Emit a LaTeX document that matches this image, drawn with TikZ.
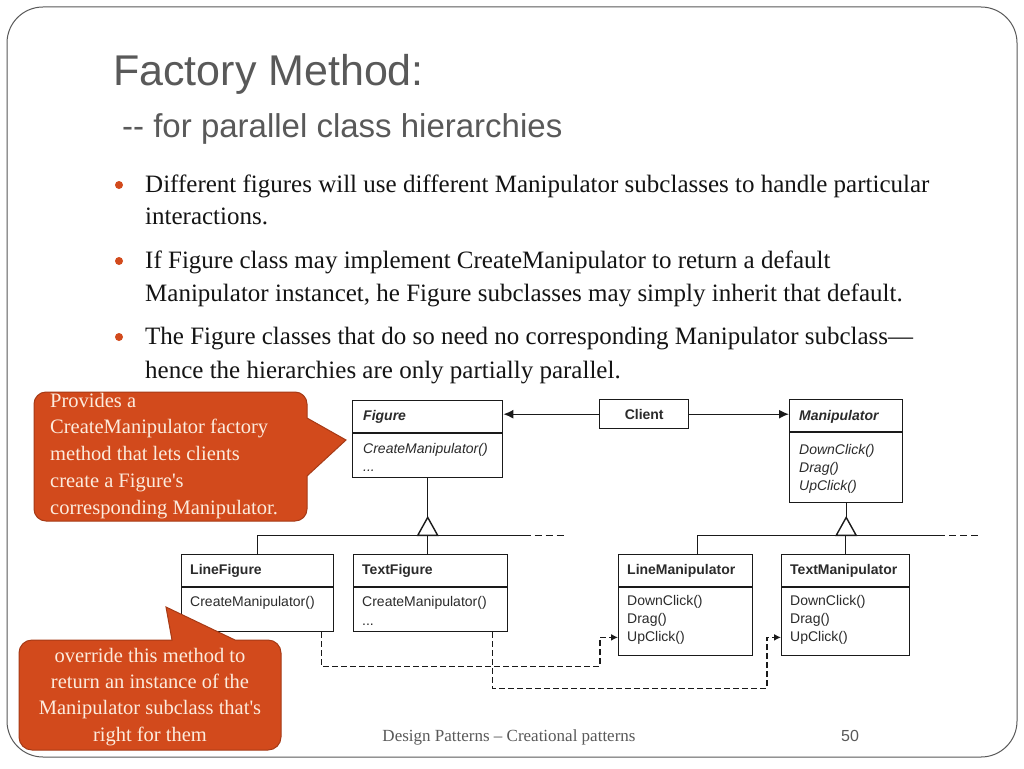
\documentclass[tikz,border=0pt]{standalone}
\usepackage{fontspec}
\setmainfont{Liberation Serif}[Ligatures=TeXOff]
\newfontfamily\umlfont{Liberation Sans}
\newfontfamily\ttlfont{Liberation Sans}
\usetikzlibrary{arrows.meta}
\definecolor{accent}{HTML}{D24A1C}
\definecolor{accentdark}{HTML}{A63A16}
\definecolor{callouttext}{HTML}{FCEBDD}
\definecolor{titlegray}{HTML}{595959}
\definecolor{umlline}{HTML}{1A1A1A}
\definecolor{umltext}{HTML}{2B2B2B}
\tikzset{
  body/.style={anchor=base west, inner sep=0, font=\fontsize{25}{30}\selectfont, text=black!92},
  bulletdot/.style={circle, fill=accent, inner sep=0, minimum size=8},
  cls/.style={draw=umlline, line width=1.4, anchor=north west, inner sep=0, fill=white},
  umlt/.style={anchor=base west, inner sep=0, font=\umlfont\fontsize{14}{16}\selectfont, text=umltext},
  umlb/.style={umlt, font=\umlfont\bfseries\fontsize{14}{16}\selectfont},
  umlbi/.style={umlt, font=\umlfont\bfseries\itshape\fontsize{14}{16}\selectfont},
  umli/.style={umlt, font=\umlfont\itshape\fontsize{14}{16}\selectfont},
  sep/.style={draw=umlline, line width=1.4},
  conn/.style={draw=umlline, line width=1.4},
  assoc/.style={conn, -{Latex[length=10,width=9]}},
  dep/.style={conn, dash pattern=on 6 off 3, -{Latex[length=7,width=7]}},
  ext/.style={conn, dash pattern=on 7 off 4},
  inh/.style={conn, fill=white, line join=miter},
  callout/.style={fill=accent, draw=accentdark, line width=1},
  ctext/.style={inner sep=0, font=\fontsize{20.5}{24}\selectfont, text=callouttext},
}
\begin{document}
\begin{tikzpicture}[x=1pt,y=-1pt]
\useasboundingbox (0,0) rectangle (1024,768);
\fill[white] (0,0) rectangle (1024,768);
% slide frame
\draw[line width=1, color=black!65] (7,7) [rounded corners=36] rectangle (1017,757);

% title
\node[anchor=base west, inner sep=0, text=titlegray, font=\ttlfont\fontsize{43}{48}\selectfont] (title) at (113,85) {Factory Method:};
\node[anchor=base west, inner sep=0, text=titlegray, font=\ttlfont\fontsize{33}{36}\selectfont] (subtitle) at (122,137) {-- for parallel class hierarchies};

% bullets
\node[bulletdot] (b1) at (119,185) {};
\node[bulletdot] (b2) at (119,261) {};
\node[bulletdot] (b3) at (119,337) {};
\node[body] (l1) at (145,192) {Different figures will use different Manipulator subclasses to handle particular};
\node[body] (l2) at (145,224) {interactions.};
\node[body] (l3) at (145,268) {If Figure class may implement CreateManipulator to return a default};
\node[body] (l4) at (145,301) {Manipulator instancet, he Figure subclasses may simply inherit that default.};
\node[body] (l5) at (145,344) {The Figure classes that do so need no corresponding Manipulator subclass—};
\node[body] (l6) at (145,378) {hence the hierarchies are only partially parallel.};

% class boxes
\node[cls, minimum width=150, minimum height=77] (fig) at (352,400) {};
\node[cls, minimum width=89, minimum height=29] (client) at (599,399) {};
\node[cls, minimum width=113, minimum height=103] (man) at (789,399) {};
\node[cls, minimum width=152, minimum height=77] (lfig) at (181,554) {};
\node[cls, minimum width=154, minimum height=77] (tfig) at (353,554) {};
\node[cls, minimum width=134, minimum height=101] (lman) at (618,554) {};
\node[cls, minimum width=128, minimum height=101] (tman) at (781,554) {};

% separators
\draw[sep] (352,433) -- (502,433);
\draw[sep] (789,432) -- (902,432);
\draw[sep] (181,587) -- (333,587);
\draw[sep] (353,587) -- (507,587);
\draw[sep] (618,587) -- (752,587);
\draw[sep] (781,587) -- (909,587);

% class texts
\node[umlbi] (figname) at (363,420) {Figure};
\node[umli] (figm1) at (363,453) {CreateManipulator()};
\node[umli] (figm2) at (363,471) {...};
\node[umlb, anchor=center] (clientname) at (client.center) {Client};
\node[umlbi] (manname) at (799,420) {Manipulator};
\node[umli] (manm1) at (799,454) {DownClick()};
\node[umli] (manm2) at (799,472) {Drag()};
\node[umli] (manm3) at (799,490) {UpClick()};
\node[umlb] (lfigname) at (190,574) {LineFigure};
\node[umlt] (lfigm1) at (190,606) {CreateManipulator()};
\node[umlb] (tfigname) at (362,574) {TextFigure};
\node[umlt] (tfigm1) at (362,606) {CreateManipulator()};
\node[umlt] (tfigm2) at (362,625) {...};
\node[umlb] (lmanname) at (627,574) {LineManipulator};
\node[umlt] (lmm1) at (627,605) {DownClick()};
\node[umlt] (lmm2) at (627,623) {Drag()};
\node[umlt] (lmu) at (627,641) {UpClick()};
\node[umlb] (tmanname) at (790,574) {TextManipulator};
\node[umlt] (tmm1) at (790,605) {DownClick()};
\node[umlt] (tmm2) at (790,623) {Drag()};
\node[umlt] (tmu) at (790,641) {UpClick()};

% associations
\draw[assoc] (client.west) -- (client.west -| fig.east);
\draw[assoc] (client.east) -- (client.east -| man.west);

% Figure hierarchy
\draw[conn] (fig.south) -- ++(0,39) coordinate (fa);
\path (fa) ++(0,18) coordinate (fb);
\draw[conn] (lfig.north) |- (fb);
\draw[conn] (tfig.north -| fb) -- (fb);
\draw[conn] (fb) -- ++(96,0) coordinate (fe);
\draw[ext] (fe) -- ++(40,0);
\draw[inh] (fa) -- ++(-10,18) -- ++(20,0) -- cycle;

% Manipulator hierarchy
\draw[conn] (man.south) -- ++(0,14) coordinate (ma);
\path (ma) ++(0,18) coordinate (mb);
\draw[conn] ([xshift=12]lman.north) |- (mb);
\draw[conn] (tman.north) -- (tman.north |- mb);
\draw[conn] (mb) -- ++(92,0) coordinate (me);
\draw[ext] (me) -- ++(40,0);
\draw[inh] (ma) -- ++(-10,18) -- ++(20,0) -- cycle;

% dependencies
\coordinate (lmuL) at (lman.west |- lmu.center);
\coordinate (tmuL) at (tman.west |- tmu.center);
\draw[dep] ([xshift=-13]lfig.south east) -- ++(0,34) -| ([xshift=-18]lmuL) -- (lmuL);
\draw[dep] ([xshift=-16]tfig.south east) -- ++(0,56) -| ([xshift=-14]tmuL) -- (tmuL);

% callout 1
\draw[callout] (34,404) [rounded corners=12] -- (34,392) -- (307,392) [sharp corners] -- (307,418) -- (346,440) -- (307,476) [rounded corners=12] -- (307,521) -- (34,521) -- (34,404);
\node[ctext, anchor=base west] (c1a) at (50,407) {Provides a};
\node[ctext, anchor=base west] (c1b) at (50,433) {CreateManipulator factory};
\node[ctext, anchor=base west] (c1c) at (50,460) {method that lets clients};
\node[ctext, anchor=base west] (c1d) at (50,487) {create a Figure's};
\node[ctext, anchor=base west] (c1e) at (50,514) {corresponding Manipulator.};

% callout 2
\draw[callout] (19,700) [rounded corners=13] -- (19,640) [sharp corners] -- (172,640) -- (166,607) -- (235,640) [rounded corners=13] -- (281,640) -- (281,750) -- (19,750) -- (19,700);
\node[ctext, anchor=base] (c2a) at (150,662) {override this method to};
\node[ctext, anchor=base] (c2b) at (150,688) {return an instance of the};
\node[ctext, anchor=base] (c2c) at (150,714) {Manipulator subclass that's};
\node[ctext, anchor=base] (c2d) at (150,741) {right for them};

% footer
\node[anchor=base, inner sep=0, text=titlegray, font=\fontsize{17}{19}\selectfont] (footer) at (509,741) {Design Patterns – Creational patterns};
\node[anchor=base, inner sep=0, text=titlegray, font=\umlfont\fontsize{16}{18}\selectfont] (pageno) at (850,741) {50};
\end{tikzpicture}
\end{document}
